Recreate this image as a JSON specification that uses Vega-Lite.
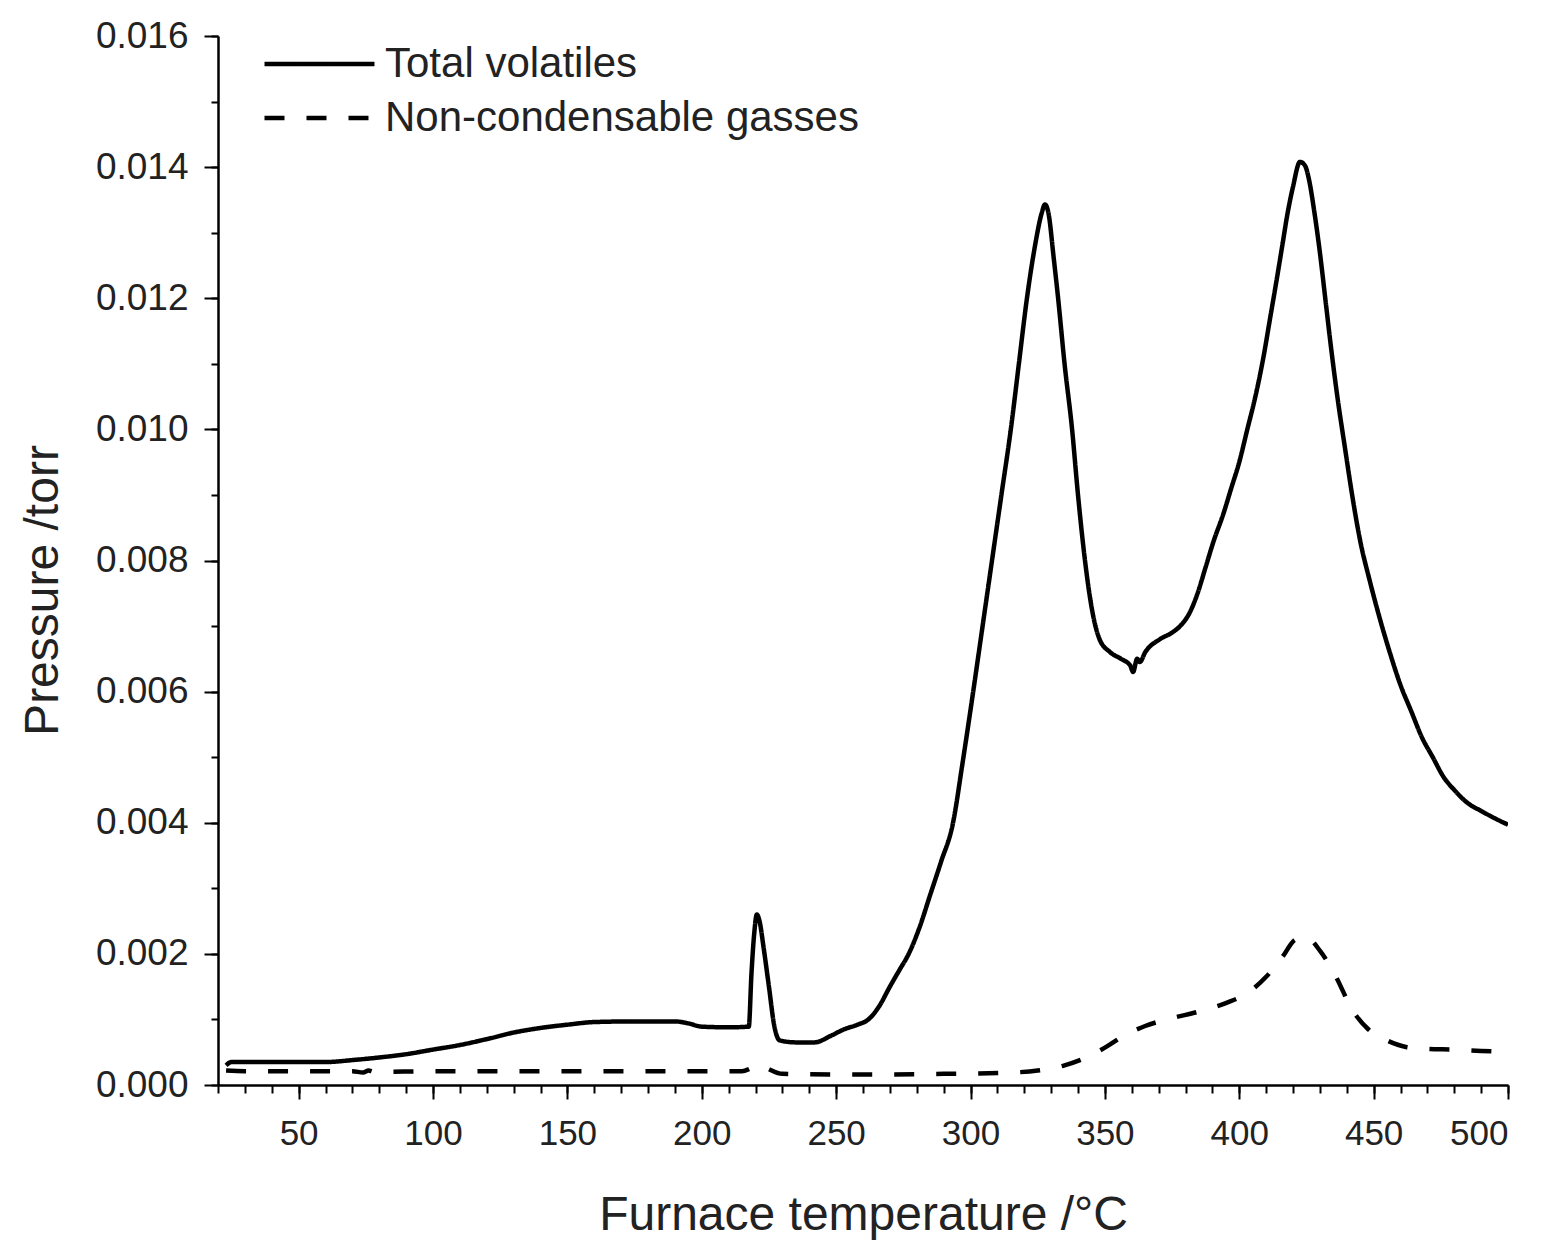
{
  "$schema": "https://vega.github.io/schema/vega-lite/v6.json",
  "width": 1290,
  "height": 1049,
  "autosize": {"type": "none"},
  "padding": {"left": 218, "top": 36, "right": 35, "bottom": 161},
  "background": "white",
  "config": {
    "view": {"stroke": null},
    "font": "Liberation Sans",
    "axis": {"grid": false, "domainColor": "black", "domainWidth": 2.5, "tickColor": "black", "tickWidth": 2, "labelColor": "#222", "titleColor": "#222", "labelFont": "Liberation Sans", "titleFont": "Liberation Sans", "titleFontWeight": "normal"}
  },
  "datasets": {
    "curves": [
      {"series": "Total volatiles", "T": 23, "P": 0.0003},
      {"series": "Total volatiles", "T": 25, "P": 0.00035},
      {"series": "Total volatiles", "T": 40, "P": 0.00035},
      {"series": "Total volatiles", "T": 60, "P": 0.00035},
      {"series": "Total volatiles", "T": 70, "P": 0.00038},
      {"series": "Total volatiles", "T": 80, "P": 0.00042},
      {"series": "Total volatiles", "T": 90, "P": 0.00047},
      {"series": "Total volatiles", "T": 100, "P": 0.00054},
      {"series": "Total volatiles", "T": 110, "P": 0.00061},
      {"series": "Total volatiles", "T": 120, "P": 0.0007},
      {"series": "Total volatiles", "T": 130, "P": 0.0008},
      {"series": "Total volatiles", "T": 140, "P": 0.00087},
      {"series": "Total volatiles", "T": 150, "P": 0.00092},
      {"series": "Total volatiles", "T": 160, "P": 0.00096},
      {"series": "Total volatiles", "T": 175, "P": 0.00097},
      {"series": "Total volatiles", "T": 190, "P": 0.00097},
      {"series": "Total volatiles", "T": 195, "P": 0.00094},
      {"series": "Total volatiles", "T": 200, "P": 0.00089},
      {"series": "Total volatiles", "T": 210, "P": 0.00088},
      {"series": "Total volatiles", "T": 217.5, "P": 0.00089},
      {"series": "Total volatiles", "T": 218.5, "P": 0.0017},
      {"series": "Total volatiles", "T": 219.5, "P": 0.0023},
      {"series": "Total volatiles", "T": 220.5, "P": 0.0026},
      {"series": "Total volatiles", "T": 221.5, "P": 0.0025},
      {"series": "Total volatiles", "T": 223, "P": 0.0021},
      {"series": "Total volatiles", "T": 225, "P": 0.0015},
      {"series": "Total volatiles", "T": 227, "P": 0.0009},
      {"series": "Total volatiles", "T": 229, "P": 0.00068},
      {"series": "Total volatiles", "T": 235, "P": 0.00065},
      {"series": "Total volatiles", "T": 242, "P": 0.00065},
      {"series": "Total volatiles", "T": 248, "P": 0.00075},
      {"series": "Total volatiles", "T": 253, "P": 0.00085},
      {"series": "Total volatiles", "T": 258, "P": 0.00092},
      {"series": "Total volatiles", "T": 262, "P": 0.001},
      {"series": "Total volatiles", "T": 266, "P": 0.0012},
      {"series": "Total volatiles", "T": 270, "P": 0.0015},
      {"series": "Total volatiles", "T": 273.5, "P": 0.00175},
      {"series": "Total volatiles", "T": 277, "P": 0.002},
      {"series": "Total volatiles", "T": 281, "P": 0.0024},
      {"series": "Total volatiles", "T": 285, "P": 0.0029},
      {"series": "Total volatiles", "T": 289, "P": 0.0034},
      {"series": "Total volatiles", "T": 293.5, "P": 0.004},
      {"series": "Total volatiles", "T": 297, "P": 0.0049},
      {"series": "Total volatiles", "T": 301, "P": 0.006},
      {"series": "Total volatiles", "T": 304.5, "P": 0.007},
      {"series": "Total volatiles", "T": 308, "P": 0.008},
      {"series": "Total volatiles", "T": 311.5, "P": 0.009},
      {"series": "Total volatiles", "T": 315, "P": 0.01},
      {"series": "Total volatiles", "T": 318, "P": 0.011},
      {"series": "Total volatiles", "T": 321, "P": 0.012},
      {"series": "Total volatiles", "T": 324, "P": 0.0128},
      {"series": "Total volatiles", "T": 326.5, "P": 0.0133},
      {"series": "Total volatiles", "T": 327.7, "P": 0.01343},
      {"series": "Total volatiles", "T": 329, "P": 0.0133},
      {"series": "Total volatiles", "T": 331, "P": 0.0126},
      {"series": "Total volatiles", "T": 332.6, "P": 0.012},
      {"series": "Total volatiles", "T": 335, "P": 0.011},
      {"series": "Total volatiles", "T": 337.8, "P": 0.01},
      {"series": "Total volatiles", "T": 340, "P": 0.009},
      {"series": "Total volatiles", "T": 342.6, "P": 0.008},
      {"series": "Total volatiles", "T": 345, "P": 0.0073},
      {"series": "Total volatiles", "T": 348, "P": 0.0068},
      {"series": "Total volatiles", "T": 352, "P": 0.0066},
      {"series": "Total volatiles", "T": 356, "P": 0.0065},
      {"series": "Total volatiles", "T": 359.4, "P": 0.0064},
      {"series": "Total volatiles", "T": 360.5, "P": 0.0063},
      {"series": "Total volatiles", "T": 362, "P": 0.0065},
      {"series": "Total volatiles", "T": 363, "P": 0.00645},
      {"series": "Total volatiles", "T": 365, "P": 0.0066},
      {"series": "Total volatiles", "T": 370.5, "P": 0.0068},
      {"series": "Total volatiles", "T": 375, "P": 0.0069},
      {"series": "Total volatiles", "T": 378, "P": 0.007},
      {"series": "Total volatiles", "T": 381.5, "P": 0.0072},
      {"series": "Total volatiles", "T": 384.5, "P": 0.0075},
      {"series": "Total volatiles", "T": 387.5, "P": 0.0079},
      {"series": "Total volatiles", "T": 390.5, "P": 0.0083},
      {"series": "Total volatiles", "T": 394, "P": 0.0087},
      {"series": "Total volatiles", "T": 397, "P": 0.0091},
      {"series": "Total volatiles", "T": 400, "P": 0.0095},
      {"series": "Total volatiles", "T": 403, "P": 0.01},
      {"series": "Total volatiles", "T": 406, "P": 0.0105},
      {"series": "Total volatiles", "T": 409, "P": 0.0111},
      {"series": "Total volatiles", "T": 411.5, "P": 0.0117},
      {"series": "Total volatiles", "T": 414, "P": 0.0123},
      {"series": "Total volatiles", "T": 416, "P": 0.0128},
      {"series": "Total volatiles", "T": 418, "P": 0.0133},
      {"series": "Total volatiles", "T": 420, "P": 0.0137},
      {"series": "Total volatiles", "T": 422.6, "P": 0.01408},
      {"series": "Total volatiles", "T": 424.5, "P": 0.01402},
      {"series": "Total volatiles", "T": 426, "P": 0.0138},
      {"series": "Total volatiles", "T": 428, "P": 0.0133},
      {"series": "Total volatiles", "T": 430, "P": 0.0127},
      {"series": "Total volatiles", "T": 432, "P": 0.012},
      {"series": "Total volatiles", "T": 434, "P": 0.0113},
      {"series": "Total volatiles", "T": 436.5, "P": 0.0105},
      {"series": "Total volatiles", "T": 439.4, "P": 0.0097},
      {"series": "Total volatiles", "T": 442, "P": 0.009},
      {"series": "Total volatiles", "T": 445, "P": 0.0083},
      {"series": "Total volatiles", "T": 448.5, "P": 0.0077},
      {"series": "Total volatiles", "T": 452.4, "P": 0.0071},
      {"series": "Total volatiles", "T": 456, "P": 0.0066},
      {"series": "Total volatiles", "T": 460, "P": 0.0061},
      {"series": "Total volatiles", "T": 464, "P": 0.0057},
      {"series": "Total volatiles", "T": 468, "P": 0.0053},
      {"series": "Total volatiles", "T": 472, "P": 0.005},
      {"series": "Total volatiles", "T": 476, "P": 0.0047},
      {"series": "Total volatiles", "T": 480, "P": 0.0045},
      {"series": "Total volatiles", "T": 485, "P": 0.0043},
      {"series": "Total volatiles", "T": 490, "P": 0.00418},
      {"series": "Total volatiles", "T": 495, "P": 0.00407},
      {"series": "Total volatiles", "T": 500, "P": 0.00397},
      {"series": "Non-condensable gasses", "T": 23, "P": 0.00022},
      {"series": "Non-condensable gasses", "T": 30, "P": 0.00021},
      {"series": "Non-condensable gasses", "T": 70, "P": 0.00021},
      {"series": "Non-condensable gasses", "T": 74, "P": 0.00019},
      {"series": "Non-condensable gasses", "T": 76, "P": 0.00022},
      {"series": "Non-condensable gasses", "T": 78, "P": 0.0002},
      {"series": "Non-condensable gasses", "T": 100, "P": 0.00021},
      {"series": "Non-condensable gasses", "T": 150, "P": 0.00021},
      {"series": "Non-condensable gasses", "T": 200, "P": 0.00021},
      {"series": "Non-condensable gasses", "T": 215, "P": 0.00021},
      {"series": "Non-condensable gasses", "T": 218, "P": 0.00025},
      {"series": "Non-condensable gasses", "T": 221, "P": 0.00031},
      {"series": "Non-condensable gasses", "T": 224, "P": 0.00026},
      {"series": "Non-condensable gasses", "T": 230, "P": 0.00017},
      {"series": "Non-condensable gasses", "T": 260, "P": 0.00016},
      {"series": "Non-condensable gasses", "T": 290, "P": 0.00017},
      {"series": "Non-condensable gasses", "T": 315, "P": 0.00019},
      {"series": "Non-condensable gasses", "T": 325, "P": 0.00022},
      {"series": "Non-condensable gasses", "T": 335, "P": 0.0003},
      {"series": "Non-condensable gasses", "T": 342, "P": 0.0004},
      {"series": "Non-condensable gasses", "T": 350, "P": 0.00057},
      {"series": "Non-condensable gasses", "T": 357, "P": 0.00075},
      {"series": "Non-condensable gasses", "T": 365, "P": 0.0009},
      {"series": "Non-condensable gasses", "T": 375, "P": 0.00102},
      {"series": "Non-condensable gasses", "T": 385, "P": 0.00112},
      {"series": "Non-condensable gasses", "T": 395, "P": 0.00125},
      {"series": "Non-condensable gasses", "T": 403, "P": 0.0014},
      {"series": "Non-condensable gasses", "T": 410, "P": 0.00165},
      {"series": "Non-condensable gasses", "T": 416, "P": 0.00195},
      {"series": "Non-condensable gasses", "T": 421, "P": 0.00222},
      {"series": "Non-condensable gasses", "T": 425, "P": 0.00225},
      {"series": "Non-condensable gasses", "T": 430, "P": 0.00205},
      {"series": "Non-condensable gasses", "T": 436, "P": 0.00165},
      {"series": "Non-condensable gasses", "T": 442, "P": 0.00115},
      {"series": "Non-condensable gasses", "T": 448, "P": 0.00085},
      {"series": "Non-condensable gasses", "T": 455, "P": 0.00068},
      {"series": "Non-condensable gasses", "T": 462, "P": 0.00058},
      {"series": "Non-condensable gasses", "T": 470, "P": 0.00055},
      {"series": "Non-condensable gasses", "T": 480, "P": 0.00054},
      {"series": "Non-condensable gasses", "T": 490, "P": 0.00052},
      {"series": "Non-condensable gasses", "T": 497, "P": 0.00051}
    ]
  },
  "data": {"name": "curves"},
  "layer": [
    {
      "mark": {"type": "line", "strokeOpacity": 0, "clip": true},
      "encoding": {
        "x": {"field": "T", "type": "quantitative", "scale": {"domain": [20, 500], "nice": false, "zero": false},
          "axis": {"orient": "bottom", "values": [20,30,40,50,60,70,80,90,100,110,120,130,140,150,160,170,180,190,200,210,220,230,240,250,260,270,280,290,300,310,320,330,340,350,360,370,380,390,400,410,420,430,440,450,460,470,480,490,500], "labels": false, "tickSize": 8, "title": null, "domain": true}},
        "y": {"field": "P", "type": "quantitative", "scale": {"domain": [0, 0.016], "nice": false},
          "axis": {"orient": "left", "values": [0,0.001,0.002,0.003,0.004,0.005,0.006,0.007,0.008,0.009,0.01,0.011,0.012,0.013,0.014,0.015,0.016], "labels": false, "tickSize": 7, "title": null, "domain": true}},
        "detail": {"field": "series"}
      }
    },
    {
      "mark": {"type": "line", "color": "black", "strokeWidth": 4.5, "interpolate": "monotone", "clip": true},
      "encoding": {
        "x": {"field": "T", "type": "quantitative",
          "axis": {"orient": "bottom", "values": [50,100,150,200,250,300,350,400,450,500], "tickSize": 14, "labelFontSize": 35, "labelPadding": 17, "title": "Furnace temperature /°C", "titleFontSize": 48, "titlePadding": 40, "domain": false}},
        "y": {"field": "P", "type": "quantitative",
          "axis": {"orient": "left", "values": [0,0.002,0.004,0.006,0.008,0.01,0.012,0.014,0.016], "format": ".3f", "tickSize": 14, "labelFontSize": 37, "labelPadding": 16, "title": "Pressure /torr", "titleFontSize": 48, "titlePadding": 28, "titleY": 554, "domain": false}},
        "strokeDash": {"field": "series", "type": "nominal",
          "scale": {"domain": ["Total volatiles", "Non-condensable gasses"], "range": [[1, 0], [20, 22]]},
          "legend": {"orient": "none", "legendX": 44, "legendY": 1, "title": null, "symbolType": "stroke", "symbolSize": 12100, "symbolStrokeWidth": 4.5, "symbolStrokeColor": "black", "labelFontSize": 42, "labelColor": "#222", "labelLimit": 0, "labelOffset": 8, "clipHeight": 54, "rowPadding": 0, "padding": 0}}
      }
    }
  ],
  "resolve": {"axis": {"x": "independent", "y": "independent"}}
}
